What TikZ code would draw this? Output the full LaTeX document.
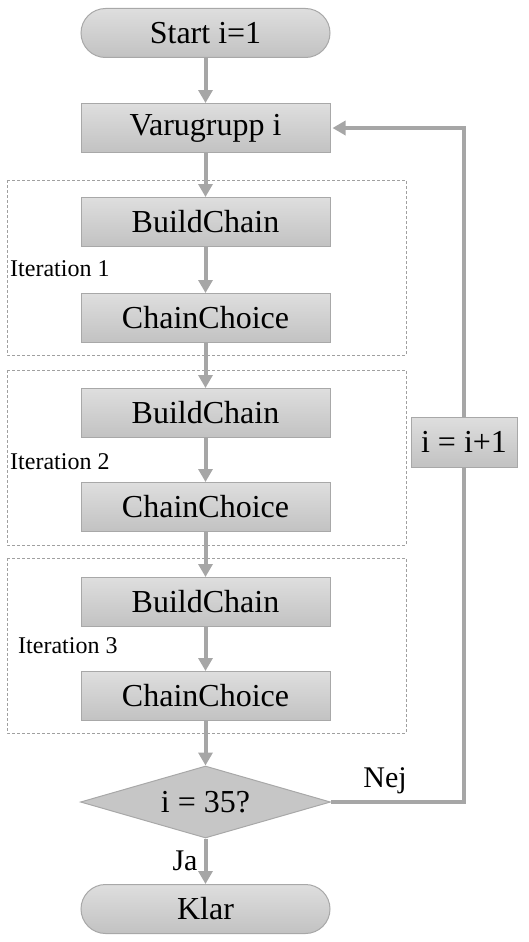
\documentclass[tikz,border=0pt]{standalone}
\usepackage{fontspec}
\setmainfont{Liberation Serif}
\usetikzlibrary{shapes.geometric,arrows.meta,calc}
\definecolor{boxtop}{HTML}{DEDEDE}
\definecolor{boxbot}{HTML}{C2C2C2}
\definecolor{boxline}{HTML}{A8A8A8}
\definecolor{arr}{HTML}{A6A6A6}
\definecolor{dashc}{HTML}{A0A0A0}
\tikzset{
  procbox/.style={draw=boxline, line width=1pt, top color=boxtop, bottom color=boxbot,
    minimum width=249pt, minimum height=49pt, inner sep=0pt, font=\fontsize{32}{38}\selectfont},
  capsule/.style={procbox, rounded corners=24.5pt},
  decision/.style={diamond, aspect=3.47, draw=boxline, line width=1pt, fill=boxbot!85!boxtop,
    minimum width=250pt, minimum height=72pt, inner sep=0pt, font=\fontsize{32}{38}\selectfont},
  incbox/.style={procbox, minimum width=106pt, minimum height=50pt},
  flow/.style={draw=arr, line width=4pt, -{Triangle[width=14pt,length=13pt]}},
  flowline/.style={draw=arr, line width=4pt},
  groupbox/.style={draw=dashc, line width=0.8pt, dash pattern=on 3pt off 2pt},
  itlabel/.style={anchor=west, inner sep=0pt, font=\fontsize{24}{28}\selectfont},
  edgelabel/.style={inner sep=0pt, font=\fontsize{30}{35}\selectfont},
}
\begin{document}
\begin{tikzpicture}[x=1pt,y=-1pt]
\useasboundingbox (0,0) rectangle (529,942);
% group boxes
\draw[groupbox] (7,180) rectangle (406,355);
\draw[groupbox] (7,370) rectangle (406,545);
\draw[groupbox] (7,558) rectangle (406,733);
\node[itlabel] (it1) at (10,269) {Iteration 1};
\node[itlabel] (it2) at (10,462) {Iteration 2};
\node[itlabel] (it3) at (18,646) {Iteration 3};
% nodes
\node[capsule] (start) at (205.5,33) {Start i=1};
\node[procbox] (var) at (205.5,128) {Varugrupp i};
\node[procbox] (bc1) at (205.5,222) {BuildChain};
\node[procbox] (cc1) at (205.5,318) {ChainChoice};
\node[procbox] (bc2) at (205.5,413) {BuildChain};
\node[procbox] (cc2) at (205.5,507) {ChainChoice};
\node[procbox] (bc3) at (205.5,602) {BuildChain};
\node[procbox] (cc3) at (205.5,696) {ChainChoice};
\node[decision] (dec) at (205.5,802) {i = 35?};
\node[capsule] (klar) at (205.5,909) {Klar};
\node[incbox] (inc) at (464,442) {i = i+1};
% connectors
\draw[flow] (start) -- (var);
\draw[flow] (var) -- (bc1);
\draw[flow] (bc1) -- (cc1);
\draw[flow] (cc1) -- (bc2);
\draw[flow] (bc2) -- (cc2);
\draw[flow] (cc2) -- (bc3);
\draw[flow] (bc3) -- (cc3);
\draw[flow] (cc3) -- (dec);
\draw[flow] (dec) -- node[edgelabel, left=6pt, pos=0.5] (ja) {Ja} (klar);
\draw[flowline] (dec.east) -- (dec.east -| inc) -- (inc.south);
\draw[flow] (inc.north) -- (inc.north |- var.east) -- ($(var.east)+(2,0)$);
\node[edgelabel] (nej) at (385,781) {Nej};
\end{tikzpicture}
\end{document}
